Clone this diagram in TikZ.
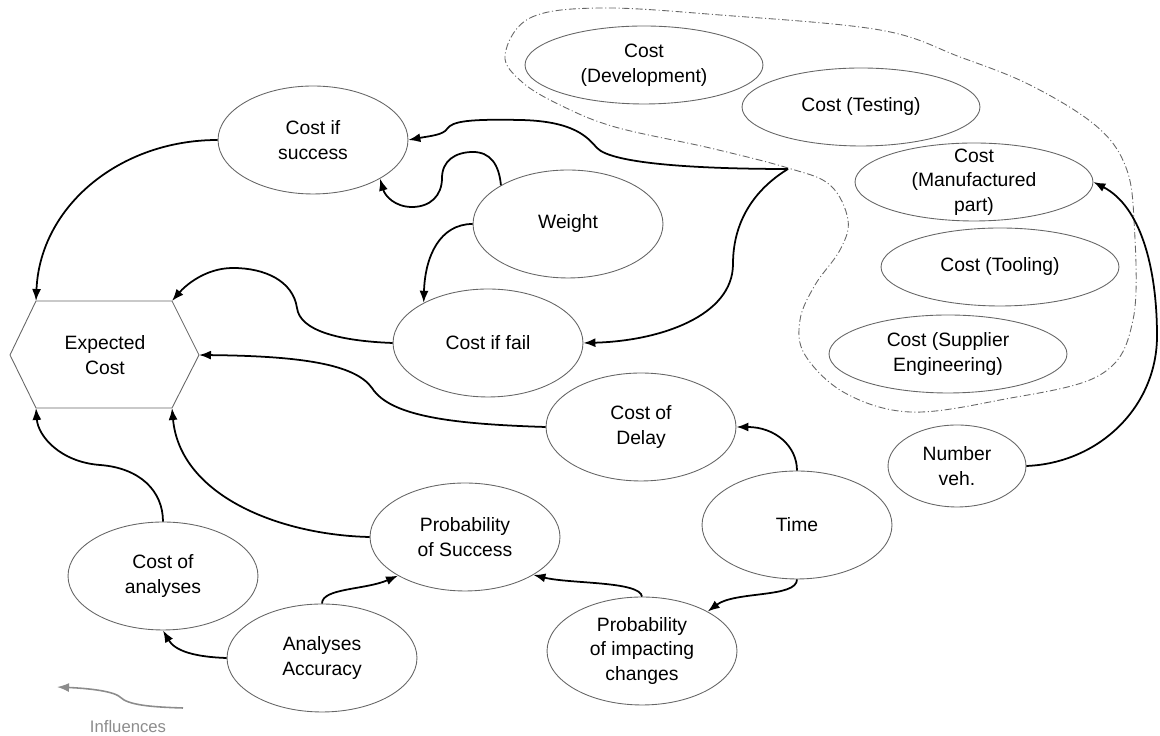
\documentclass[tikz,border=0pt]{standalone}
\usepackage{fontspec}
\setmainfont{Liberation Sans}
\usepackage{tikz}
\usetikzlibrary{calc, shapes.geometric}
\usetikzlibrary{arrows.meta}
\tikzset{>={Latex[width=1.8mm,length=2.4mm]}}

\begin{document}
\begin{tikzpicture}[x=0.02cm, y=0.02cm,
  var/.style={ellipse, draw=black!60, line width=0.5pt, minimum width=3.8cm,
    minimum height=2.16cm, inner sep=1pt, align=center,
    font=\fontsize{11}{14}\selectfont},
  costvar/.style={var, minimum width=4.76cm, minimum height=1.56cm, inner sep=0pt},
  link/.style={->, line width=1pt},
  region/.style={draw=black!60, line width=0.5pt,
    dash pattern=on 4pt off 1.5pt on 0.6pt off 1.5pt}]
  \useasboundingbox (0,0) rectangle (1160,736);

  % group of cost inputs
  \draw[region] plot[smooth cycle, tension=0.6] coordinates {
    (505,681) (530,718) (600,728) (720,721) (880,706) (960,679) (1030,651)
    (1095,611) (1125,571) (1134,516) (1133,416) (1100,361) (1000,336)
    (910,324) (845,343) (805,381) (800,416) (815,451) (840,486) (848,516)
    (830,551) (788,568) (710,588) (615,609) (560,631) (522,654)};

  % expected cost
  \node[align=center, font=\fontsize{11}{14}\selectfont] (ec) at (105,381) {Expected\\Cost};
  \coordinate (ec-w) at ($(ec)+(-95,0)$);
  \coordinate (ec-nw) at ($(ec)+(-69,54)$);
  \coordinate (ec-ne) at ($(ec)+(67,54)$);
  \coordinate (ec-e) at ($(ec)+(94,0)$);
  \coordinate (ec-se) at ($(ec)+(67,-53)$);
  \coordinate (ec-sw) at ($(ec)+(-69,-53)$);
  \draw[black!60, line width=0.5pt] (ec-w) -- (ec-nw) -- (ec-ne) -- (ec-e)
    -- (ec-se) -- (ec-sw) -- cycle;

  \node[var] (cis) at (313,596) {Cost if\\success};
  \node[var] (wgt) at (568,512) {Weight};
  \node[var] (cif) at (488,393) {Cost if fail};
  \node[var] (cod) at (641,309) {Cost of\\Delay};
  \node[var] (time) at (797,211) {Time};
  \node[var] (pic) at (642,85) {Probability\\of impacting\\changes};
  \node[var] (pos) at (465,199) {Probability\\of Success};
  \node[var] (coa) at (163,160) {Cost of\\analyses};
  \node[var] (aa) at (322,78) {Analyses\\Accuracy};

  \node[costvar] (cdev) at (644,671) {Cost\\(Development)};
  \node[costvar] (ctest) at (861,629) {Cost (Testing)};
  \node[costvar, inner ysep=-8pt] (cman) at (974,554) {Cost\\(Manufactured\\part)};
  \node[costvar] (ctool) at (1000,469) {Cost (Tooling)};
  \node[costvar] (csup) at (948,382) {Cost (Supplier\\Engineering)};
  \node[var, minimum width=2.76cm, minimum height=1.64cm] (nveh) at (957,270) {Number\\veh.};

  \coordinate (J) at (788,567);

  \draw[link] (J) .. controls (700,567) and (612,572) .. (597,588)
    .. controls (588,598) and (575,615) .. (520,616)
    .. controls (470,617) and (452,615) .. (447,607)
    .. controls (443,601) and (430,600) .. (cis.east);
  \draw[link] (J) .. controls (760,550) and (733,520) .. (733,472)
    .. controls (733,420) and (660,395) .. (cif.east);
  \draw[link] (wgt.150) .. controls (499,572) and (490,584) .. (473,584)
    .. controls (455,584) and (442,575) .. (442,558)
    .. controls (442,540) and (430,529) .. (412,529)
    .. controls (395,529) and (385,540) .. (cis.-30);
  \draw[link] (wgt.west) .. controls (440,512) and (425,480) .. (cif.148);
  \draw[link] (cis.west) .. controls (120,596) and (40,530) .. (ec-nw);
  \draw[link] (cif.west) .. controls (340,395) and (300,405) .. (297,428)
    .. controls (293,455) and (265,468) .. (233,468)
    .. controls (205,468) and (185,450) .. (ec-ne);
  \draw[link] (cod.west) .. controls (450,312) and (390,320) .. (372,348)
    .. controls (355,372) and (300,380) .. (ec-e);
  \draw[link] (time.north) .. controls (797,290) and (775,309) .. (cod.east);
  \draw[link] (time.south) .. controls (797,138) and (735,145) .. (pic.31);
  \draw[link] (pic.north) .. controls (640,155) and (570,152) .. (pos.-29);
  \draw[link] (aa.north) .. controls (322,148) and (365,146) .. (pos.210);
  \draw[link] (aa.west) .. controls (195,79) and (175,85) .. (coa.south);
  \draw[link] (coa.north) .. controls (163,245) and (140,268) .. (100,271)
    .. controls (60,274) and (38,300) .. (ec-sw);
  \draw[link] (pos.west) .. controls (280,201) and (180,240) .. (ec-se);
  \draw[link] (nveh.east) .. controls (1100,273) and (1157,330) .. (1157,400)
    .. controls (1157,470) and (1140,530) .. (cman.east);

  % legend
  \node[font=\fontsize{9.5}{11}\selectfont, text=black!45] (inf) at (128,9) {Influences};
  \coordinate (inf-a) at (183,28);
  \coordinate (inf-b) at (57,49);
  \draw[link, draw=black!45, line width=0.9pt] (inf-a) .. controls (150,29) and (128,31) .. (120,39)
    .. controls (112,46) and (80,48) .. (inf-b);
\end{tikzpicture}
\end{document}
